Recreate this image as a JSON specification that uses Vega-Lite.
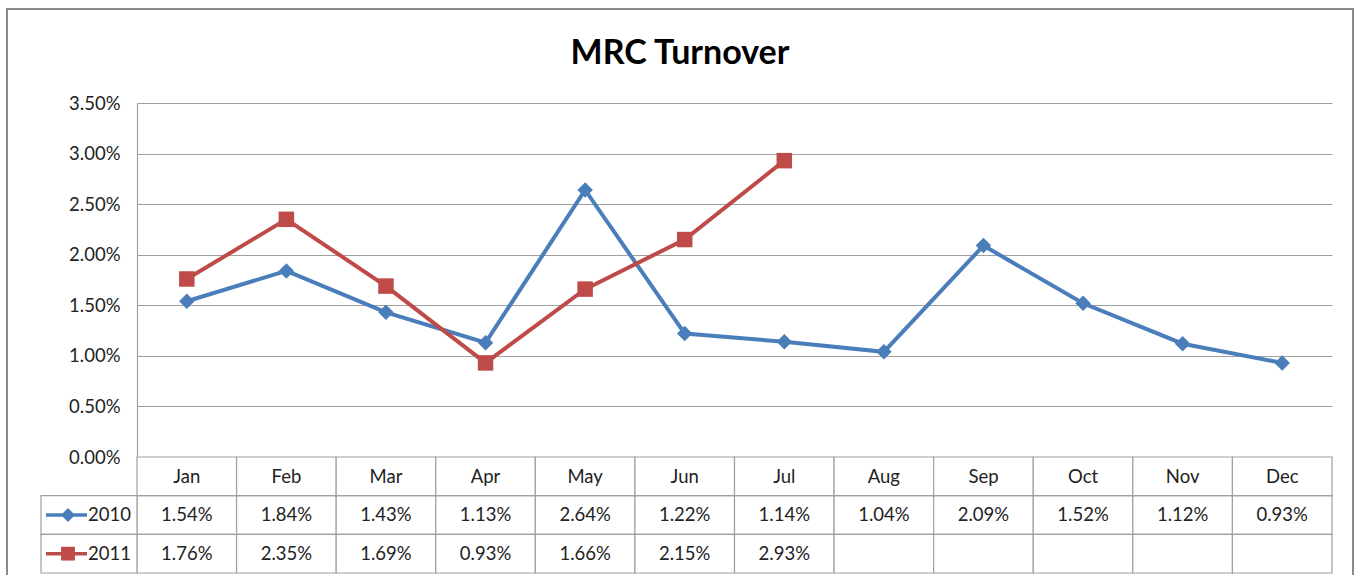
{
  "$schema": "https://vega.github.io/schema/vega-lite/v6.json",
  "width": 1346,
  "height": 570,
  "autosize": {"type": "none"},
  "padding": {"left": 7, "top": 9, "right": 1, "bottom": 0},
  "background": "white",
  "config": {"view": {"stroke": "#8a8a8a", "strokeWidth": 2}, "font": "Lato"},
  "title": {"text": "MRC Turnover", "font": "Lato", "fontSize": 34, "fontWeight": "bold", "color": "#000000", "anchor": "middle", "offset": -62},
  "data": {"values": [
    {"month": "Jan", "year": "2010", "value": 0.0154},
    {"month": "Feb", "year": "2010", "value": 0.0184},
    {"month": "Mar", "year": "2010", "value": 0.0143},
    {"month": "Apr", "year": "2010", "value": 0.0113},
    {"month": "May", "year": "2010", "value": 0.0264},
    {"month": "Jun", "year": "2010", "value": 0.0122},
    {"month": "Jul", "year": "2010", "value": 0.0114},
    {"month": "Aug", "year": "2010", "value": 0.0104},
    {"month": "Sep", "year": "2010", "value": 0.0209},
    {"month": "Oct", "year": "2010", "value": 0.0152},
    {"month": "Nov", "year": "2010", "value": 0.0112},
    {"month": "Dec", "year": "2010", "value": 0.0093},
    {"month": "Jan", "year": "2011", "value": 0.0176},
    {"month": "Feb", "year": "2011", "value": 0.0235},
    {"month": "Mar", "year": "2011", "value": 0.0169},
    {"month": "Apr", "year": "2011", "value": 0.0093},
    {"month": "May", "year": "2011", "value": 0.0166},
    {"month": "Jun", "year": "2011", "value": 0.0215},
    {"month": "Jul", "year": "2011", "value": 0.0293},
    {"month": "Aug", "year": "2011", "value": null},
    {"month": "Sep", "year": "2011", "value": null},
    {"month": "Oct", "year": "2011", "value": null},
    {"month": "Nov", "year": "2011", "value": null},
    {"month": "Dec", "year": "2011", "value": null}
  ]},
  "resolve": {"scale": {"x": "independent", "y": "independent"}},
  "layer": [
    {
      "transform": [{"filter": "isValid(datum.value)"}],
      "encoding": {
        "x": {"field": "month", "type": "nominal", "sort": ["Jan","Feb","Mar","Apr","May","Jun","Jul","Aug","Sep","Oct","Nov","Dec"],
              "scale": {"type": "band", "domain": ["Jan","Feb","Mar","Apr","May","Jun","Jul","Aug","Sep","Oct","Nov","Dec"], "range": [130, 1325], "paddingInner": 0, "paddingOuter": 0}, "axis": null},
        "y": {"field": "value", "type": "quantitative",
              "scale": {"domain": [0, 0.035], "range": [448, 94], "nice": false, "zero": true},
              "axis": {"format": ".2%", "values": [0, 0.005, 0.01, 0.015, 0.02, 0.025, 0.03, 0.035], "offset": -130, "ticks": false, "labelPadding": 17, "labelFont": "Lato", "labelFontSize": 18.5, "labelColor": "#222222", "grid": true, "gridColor": "#a0a0a0", "gridWidth": 1.2, "domain": true, "domainColor": "#a0a0a0", "domainWidth": 1.2, "title": null}},
        "color": {"field": "year", "type": "nominal", "scale": {"domain": ["2010", "2011"], "range": ["#4A7EBB", "#BE4B48"]}, "legend": null}
      },
      "layer": [
        {"mark": {"type": "line", "strokeWidth": 4}},
        {"mark": {"type": "point", "filled": true, "opacity": 1, "size": 240},
         "encoding": {"shape": {"field": "year", "type": "nominal", "scale": {"domain": ["2010", "2011"], "range": ["diamond", "square"]}, "legend": null}}}
      ]
    },
    {
      "encoding": {
        "x": {"field": "month", "type": "nominal", "sort": ["Jan","Feb","Mar","Apr","May","Jun","Jul","Aug","Sep","Oct","Nov","Dec"],
              "scale": {"type": "band", "domain": ["Jan","Feb","Mar","Apr","May","Jun","Jul","Aug","Sep","Oct","Nov","Dec"], "range": [130, 1325], "paddingInner": 0, "paddingOuter": 0}, "axis": null},
        "y": {"field": "year", "type": "nominal",
              "scale": {"type": "band", "domain": ["Month", "2010", "2011"], "range": [448, 564], "paddingInner": 0, "paddingOuter": 0}, "axis": null}
      },
      "layer": [
        {"mark": {"type": "rect", "fill": "white", "stroke": "#a0a0a0", "strokeWidth": 1.2}},
        {"transform": [{"filter": "datum.year === '2010'"}],
         "mark": {"type": "rect", "fill": "white", "stroke": "#a0a0a0", "strokeWidth": 1.2},
         "encoding": {"y": {"datum": "Month", "type": "nominal"}}},
        {"transform": [{"filter": "isValid(datum.value)"}],
         "mark": {"type": "text", "font": "Lato", "fontSize": 18.5, "color": "#222222"},
         "encoding": {"text": {"field": "value", "type": "quantitative", "format": ".2%"}}},
        {"transform": [{"filter": "datum.year === '2010'"}],
         "mark": {"type": "text", "font": "Lato", "fontSize": 18.5, "color": "#222222", "dy": 1},
         "encoding": {"y": {"datum": "Month", "type": "nominal"}, "text": {"field": "month", "type": "nominal"}}}
      ]
    },
    {
      "transform": [{"filter": "datum.month === 'Jan'"}],
      "encoding": {
        "y": {"field": "year", "type": "nominal",
              "scale": {"type": "band", "domain": ["Month", "2010", "2011"], "range": [448, 564], "paddingInner": 0, "paddingOuter": 0}, "axis": null}
      },
      "layer": [
        {"mark": {"type": "rect", "fill": "white", "stroke": "#a0a0a0", "strokeWidth": 1.2},
         "encoding": {"x": {"datum": 0, "type": "quantitative", "scale": {"domain": [0, 96], "range": [34, 130], "nice": false, "zero": false}, "axis": null},
                      "x2": {"datum": 96}}},
        {"mark": {"type": "rule", "strokeWidth": 3.5},
         "encoding": {"x": {"datum": 5, "type": "quantitative"}, "x2": {"datum": 46},
                      "color": {"field": "year", "type": "nominal"}}},
        {"mark": {"type": "point", "filled": true, "opacity": 1, "size": 190},
         "encoding": {"x": {"datum": 27, "type": "quantitative"},
                      "color": {"field": "year", "type": "nominal"},
                      "shape": {"field": "year", "type": "nominal"}}},
        {"mark": {"type": "text", "font": "Lato", "fontSize": 18.5, "color": "#222222", "align": "right"},
         "encoding": {"x": {"datum": 90, "type": "quantitative"}, "text": {"field": "year", "type": "nominal"}}}
      ]
    }
  ]
}
